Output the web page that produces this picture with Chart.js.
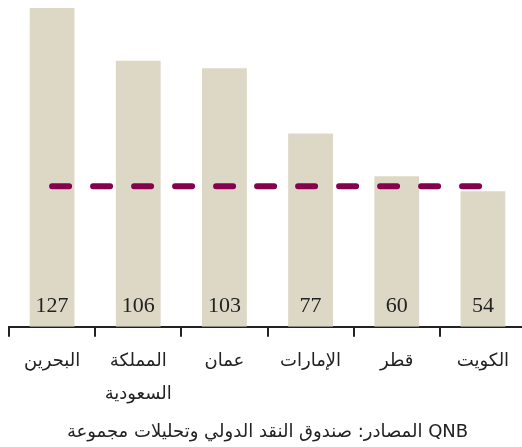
<!DOCTYPE html>
<html>
<head>
<meta charset="utf-8">
<script src="https://cdn.jsdelivr.net/npm/chart.js@4"></script>
<style>
  html, body { margin: 0; padding: 0; background: #fff; overflow: hidden; }
  #wrap { width: 522px; height: 447px; overflow: hidden; }
</style>
</head>
<body>
<div id="wrap"><canvas id="gccChart" width="526" height="447"></canvas></div>
<script>
const countries = ["البحرين", ["المملكة", "السعودية"], "عمان", "الإمارات", "قطر", "الكويت"];
const debtValues = [127, 106, 103, 77, 60, 54];
const referenceLevel = [56, 56, 56, 56, 56, 56];
const sourceNote = "المصادر: صندوق النقد الدولي وتحليلات مجموعة QNB";

const barColor = "#ddd8c6";
const lineColor = "#85004f";
const axisColor = "#222222";

// value labels sit inside each bar, near the base
const barLabels = {
  id: "barLabels",
  afterDatasetsDraw(chart) {
    const ctx = chart.ctx;
    const meta = chart.getDatasetMeta(1);
    ctx.save();
    ctx.font = "22px 'Liberation Serif', serif";
    ctx.fillStyle = axisColor;
    ctx.textAlign = "center";
    ctx.textBaseline = "middle";
    meta.data.forEach((bar, i) => {
      ctx.fillText(String(debtValues[i]), bar.x, chart.chartArea.bottom - 21);
    });
    ctx.restore();
  },
};

const ctx = document.getElementById("gccChart").getContext("2d");
new Chart(ctx, {
  type: "bar",
  data: {
    labels: countries,
    datasets: [
      {
        type: "line",
        data: referenceLevel,
        borderColor: lineColor,
        borderWidth: 6,
        borderDash: [17, 24],
        borderCapStyle: "round",
        pointRadius: 0,
        fill: false,
        order: 0,
      },
      {
        data: debtValues,
        backgroundColor: barColor,
        barPercentage: 0.52,
        categoryPercentage: 1,
        order: 1,
      },
    ],
  },
  options: {
    responsive: false,
    animation: false,
    devicePixelRatio: 1,
    layout: { padding: { top: 8, left: 9, right: 0, bottom: 0 } },
    scales: {
      x: {
        offset: true,
        grid: {
          offset: true,
          drawOnChartArea: false,
          drawTicks: true,
          tickLength: 10,
          color: axisColor,
          lineWidth: 2,
        },
        border: { display: true, color: axisColor, width: 2 },
        ticks: {
          color: axisColor,
          padding: 8,
          maxRotation: 0,
          font: { family: "'DejaVu Sans', sans-serif", size: 18, lineHeight: 1.85 },
        },
      },
      y: {
        display: false,
        min: 0,
        max: 127,
      },
    },
    plugins: {
      legend: { display: false },
      tooltip: { enabled: false },
      title: {
        display: true,
        position: "bottom",
        text: sourceNote,
        color: axisColor,
        font: { family: "'DejaVu Sans', sans-serif", size: 18, weight: "normal", lineHeight: 1.2 },
        padding: { top: 2, bottom: 4 },
      },
    },
  },
  plugins: [barLabels],
});
</script>
</body>
</html>
